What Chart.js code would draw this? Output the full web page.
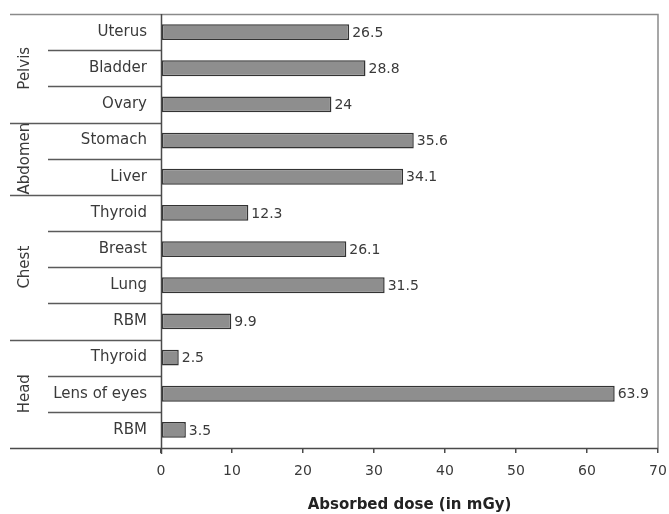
<!DOCTYPE html>
<html>
<head>
<meta charset="utf-8">
<script src="https://cdn.jsdelivr.net/npm/chart.js@4.4.1/dist/chart.umd.min.js"></script>
<style>
  html, body { margin: 0; padding: 0; background: #ffffff; }
  #wrap { width: 669px; height: 514px; }
</style>
</head>
<body>
<div id="wrap"><canvas id="c" width="669" height="514"></canvas></div>
<script>
const categories = ['Uterus', 'Bladder', 'Ovary', 'Stomach', 'Liver', 'Thyroid', 'Breast', 'Lung', 'RBM', 'Thyroid', 'Lens of eyes', 'RBM'];
const doses = [26.5, 28.8, 24, 35.6, 34.1, 12.3, 26.1, 31.5, 9.9, 2.5, 63.9, 3.5];
const doseLabels = ['26.5', '28.8', '24', '35.6', '34.1', '12.3', '26.1', '31.5', '9.9', '2.5', '63.9', '3.5'];
const groups = ['Pelvis', 'Abdomen', 'Chest', 'Head'];
const groupSizes = [3, 2, 4, 3];
const xMin = 0, xMax = 70, xStep = 10;
const axisTitle = 'Absorbed dose (in mGy)';

const FONT = 'DejaVu Sans';
const TEXT = '#3a3a3a';

const framePlugin = {
  id: 'frame',
  afterDraw(chart) {
    const ctx = chart.ctx;
    const ys = chart.scales.y;
    const ca = chart.chartArea;
    const n = categories.length;
    const rowH = (ys.bottom - ys.top) / n;
    const leftEdge = 10, innerEdge = 48;
    ctx.save();
    const groupStarts = new Set();
    let acc = 0;
    groupSizes.forEach(s => { groupStarts.add(acc); acc += s; });
    ctx.strokeStyle = '#5a5a5a';
    ctx.lineWidth = 1.5;
    for (let k = 1; k < n; k++) {
      const y = Math.round(ys.top + k * rowH) + 0.5;
      ctx.beginPath();
      ctx.moveTo(groupStarts.has(k) ? leftEdge : innerEdge, y);
      ctx.lineTo(ca.left, y);
      ctx.stroke();
    }
    ctx.strokeStyle = '#8a8a8a';
    ctx.beginPath();
    ctx.moveTo(leftEdge, ca.top + 0.5);
    ctx.lineTo(ca.right, ca.top + 0.5);
    ctx.lineTo(ca.right, ca.bottom);
    ctx.stroke();
    ctx.strokeStyle = '#4a4a4a';
    ctx.beginPath();
    ctx.moveTo(leftEdge, ca.bottom + 0.5);
    ctx.lineTo(ca.right, ca.bottom + 0.5);
    ctx.stroke();
    ctx.beginPath();
    ctx.moveTo(ca.left + 0.5, ca.top);
    ctx.lineTo(ca.left + 0.5, ca.bottom + 6);
    ctx.stroke();
    ctx.fillStyle = TEXT;
    ctx.font = '15px "' + FONT + '"';
    ctx.textAlign = 'center';
    ctx.textBaseline = 'middle';
    acc = 0;
    groups.forEach((g, i) => {
      const y0 = ys.top + acc * rowH;
      const y1 = ys.top + (acc + groupSizes[i]) * rowH;
      acc += groupSizes[i];
      ctx.save();
      ctx.translate(25, (y0 + y1) / 2);
      ctx.rotate(-Math.PI / 2);
      ctx.fillText(g, 0, 0);
      ctx.restore();
    });
    ctx.font = '14px "' + FONT + '"';
    ctx.textAlign = 'left';
    const meta = chart.getDatasetMeta(0);
    meta.data.forEach((bar, i) => {
      ctx.fillText(doseLabels[i], bar.x + 3, bar.y + 1);
    });
    ctx.restore();
  }
};

new Chart(document.getElementById('c'), {
  type: 'bar',
  data: {
    labels: categories,
    datasets: [{
      data: doses,
      backgroundColor: '#8e8e8e',
      borderColor: '#333333',
      borderWidth: 1.5,
      borderSkipped: false,
      barPercentage: 0.44,
      categoryPercentage: 1
    }]
  },
  options: {
    indexAxis: 'y',
    responsive: false,
    animation: false,
    devicePixelRatio: 1,
    layout: { padding: { top: 14, right: 11, left: 0, bottom: 0 } },
    plugins: { legend: { display: false }, tooltip: { enabled: false } },
    scales: {
      x: {
        min: xMin, max: xMax,
        ticks: { stepSize: xStep, color: TEXT, font: { family: FONT, size: 14 }, padding: 10 },
        grid: { display: true, drawOnChartArea: false, drawTicks: true, tickLength: 5, color: '#4a4a4a', lineWidth: 1.5 },
        border: { display: false },
        title: { display: true, text: axisTitle, color: '#222', font: { family: FONT, size: 15, weight: 'bold' }, padding: { top: 4, bottom: 0 } },
        afterFit(scale) { scale.height = 66; scale.paddingLeft = 0; scale.paddingRight = 0; }
      },
      y: {
        ticks: { color: TEXT, font: { family: FONT, size: 15 }, padding: 14, autoSkip: false },
        grid: { display: false, drawTicks: false },
        border: { display: false },
        afterFit(scale) { scale.width = 161; scale.paddingTop = 0; scale.paddingBottom = 0; }
      }
    }
  },
  plugins: [framePlugin]
});
</script>
</body>
</html>
